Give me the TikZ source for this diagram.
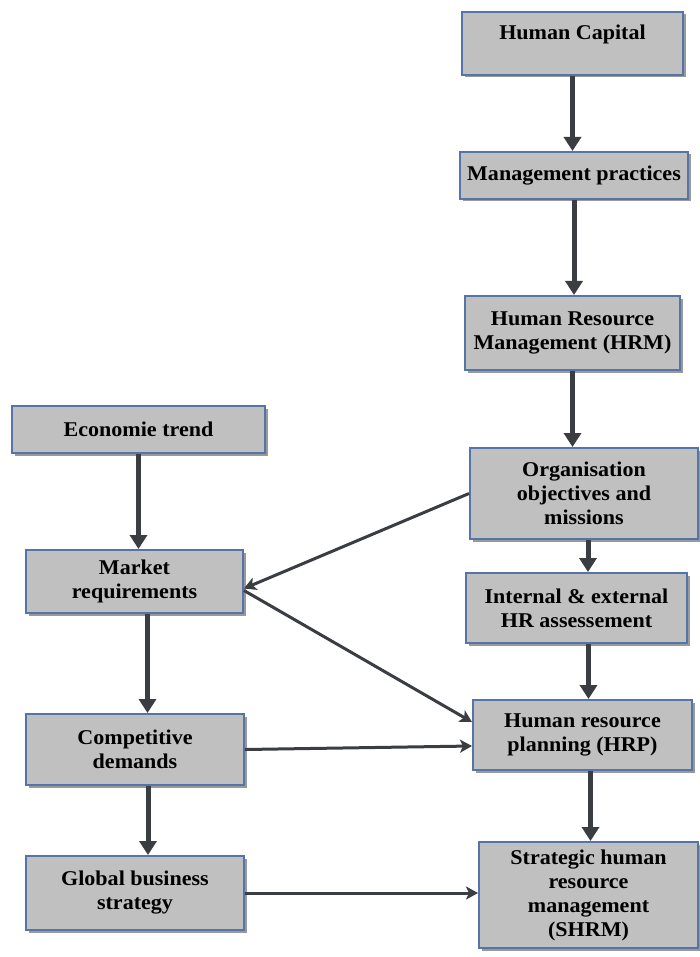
\documentclass[tikz,border=0pt]{standalone}
\usepackage{fontspec}
\setmainfont{Liberation Serif}[FakeStretch=1.05]
\usetikzlibrary{arrows.meta,shadows,calc}
\definecolor{boxfill}{RGB}{192,192,192}
\definecolor{boxline}{RGB}{84,116,170}
\definecolor{arrowc}{RGB}{58,62,66}
\tikzset{
  box/.style={draw=boxline, line width=2pt, fill=boxfill, rectangle, align=center,
    font=\fontsize{21}{24}\selectfont\bfseries, inner sep=2pt,
    drop shadow={shadow xshift=2.5pt, shadow yshift=-2.5pt, fill=black, opacity=0.4}},
  thickarrow/.style={draw=arrowc, line width=5pt, -{Triangle[width=17pt,length=14pt]}},
  thinarrow/.style={draw=arrowc, line width=3pt, -{Stealth[width=13pt,length=12pt,inset=3pt]}},
}
\begin{document}
\begin{tikzpicture}[x=1pt,y=-1pt]
\fill[white] (0,0) rectangle (699,957);
\useasboundingbox (0,0) rectangle (699,957);
% right column
\node[box, minimum width=221pt, minimum height=63pt, text height=15pt, text depth=22pt] (hc) at (572.5,43.5) {Human Capital};
\node[box, minimum width=228pt, minimum height=47pt] (mp) at (574,175.5) {Management practices};
\node[box, minimum width=215pt, minimum height=74pt] (hrm) at (572.5,333) {Human Resource\\Management (HRM)};
\node[box, minimum width=228pt, minimum height=91pt] (org) at (584,493.5) {Organisation\\objectives and\\missions};
\node[box, minimum width=221pt, minimum height=70pt] (int) at (576.5,608) {Internal \& external\\HR assessement};
\node[box, minimum width=219pt, minimum height=70pt] (hrp) at (582.5,735) {Human resource\\planning (HRP)};
\node[box, minimum width=219pt, minimum height=106pt] (shrm) at (588.5,895) {Strategic human\\resource\\management\\(SHRM)};
% left column
\node[box, minimum width=253pt, minimum height=47pt] (et) at (138.5,429.5) {Economie trend};
\node[box, minimum width=217pt, minimum height=63pt] (mr) at (134.5,581.5) {Market\\requirements};
\node[box, minimum width=218pt, minimum height=71pt] (cd) at (135,749.5) {Competitive\\demands};
\node[box, minimum width=218pt, minimum height=74pt] (gb) at (135,893) {Global business\\strategy};
% thick vertical arrows
\draw[thickarrow] (hc.south) -- (hc.south |- mp.north);
\draw[thickarrow] (mp.south) -- (mp.south |- hrm.north);
\draw[thickarrow] (hrm.south) -- (hrm.south |- org.north);
\coordinate (c1) at ([xshift=4pt]org.south);
\draw[thickarrow] (c1) -- (c1 |- int.north);
\coordinate (c2) at ([xshift=12pt]int.south);
\draw[thickarrow] (c2) -- (c2 |- hrp.north);
\coordinate (c3) at ([xshift=8pt]hrp.south);
\draw[thickarrow] (c3) -- (c3 |- shrm.north);
\draw[thickarrow] (et.south) -- (et.south |- mr.north);
\coordinate (c4) at ([xshift=13pt]mr.south);
\draw[thickarrow] (c4) -- (c4 |- cd.north);
\coordinate (c5) at ([xshift=13pt]cd.south);
\draw[thickarrow] (c5) -- (c5 |- gb.north);
% thin arrows
\draw[thinarrow] (org.west) -- ([yshift=-7pt]mr.east);
\draw[thinarrow] ([yshift=-9pt]mr.east) -- ([yshift=13pt]hrp.west);
\draw[thinarrow] (cd.east) -- ([yshift=-11pt]hrp.west);
\draw[thinarrow] (gb.east) -- (gb.east -| shrm.west);
\end{tikzpicture}
\end{document}
